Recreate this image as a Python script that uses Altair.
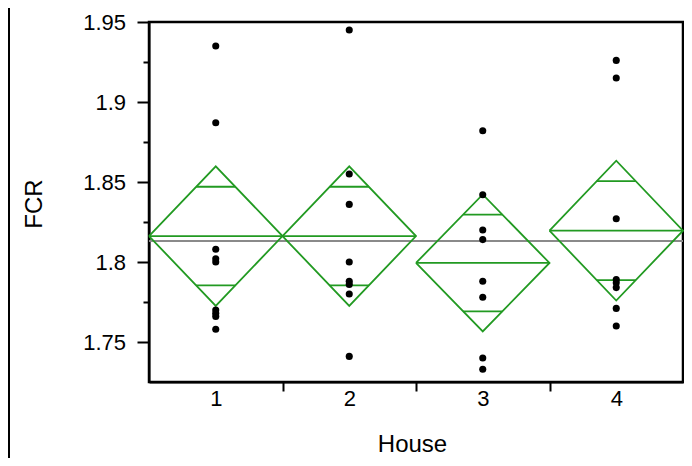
import math
import altair as alt
import pandas as pd

# ---- data ----
houses = [1, 2, 3, 4]
fcr_house1 = [1.935, 1.887, 1.808, 1.802, 1.800, 1.770, 1.768, 1.766, 1.758]
fcr_house2 = [1.945, 1.855, 1.836, 1.800, 1.788, 1.786, 1.780, 1.741]
fcr_house3 = [1.882, 1.842, 1.820, 1.814, 1.788, 1.778, 1.740, 1.733]
fcr_house4 = [1.926, 1.915, 1.827, 1.789, 1.787, 1.784, 1.771, 1.760]
group_means = [1.8162, 1.8162, 1.7994, 1.8196]
ci_half = [0.0436, 0.0436, 0.0428, 0.0437]
grand_mean = 1.8131
y_ticks = [1.75, 1.775, 1.8, 1.825, 1.85, 1.875, 1.9, 1.925, 1.95]
x_ticks = [1, 1.5, 2, 2.5, 3, 3.5, 4]

GREEN = "#229a22"
FONT = "Liberation Sans"
PLOT_W = 534

# points
rows = []
for h, vals in zip(houses, [fcr_house1, fcr_house2, fcr_house3, fcr_house4]):
    for v in vals:
        rows.append({"House": h, "FCR": v})
pts = pd.DataFrame(rows)

# diamonds
drows = []
for h, m, d in zip(houses, group_means, ci_half):
    verts = [(h - 0.5, m), (h, m + d), (h + 0.5, m), (h, m - d), (h - 0.5, m)]
    for i, (xx, yy) in enumerate(verts):
        drows.append({"House": h, "seq": i, "x": xx, "y": yy})
dia = pd.DataFrame(drows)

# mean lines and overlap marks
srows = []
w = 0.5 * (1 - 1 / math.sqrt(2))
for h, m, d in zip(houses, group_means, ci_half):
    srows.append({"x": h - 0.5, "x2": h + 0.5, "y": m})
    k = d / math.sqrt(2)
    srows.append({"x": h - w, "x2": h + w, "y": m + k})
    srows.append({"x": h - w, "x2": h + w, "y": m - k})
segs = pd.DataFrame(srows)

xscale = alt.Scale(domain=[0.5, 4.5], nice=False, zero=False)
yscale = alt.Scale(domain=[1.725, 1.95], nice=False, zero=False)

xaxis = alt.Axis(
    title="House",
    values=x_ticks,
    labelExpr="datum.value % 1 == 0 ? toString(datum.value) : ''",
    tickOpacity={"condition": {"test": "datum.value % 1 == 0", "value": 0}, "value": 1},
    tickSize=9,
    labelBaseline="alphabetic",
    labelPadding=14.5,
    titleX=PLOT_W / 2 - 4,
    titleY=69,
    titleBaseline="alphabetic",
    titleAlign="center",
    grid=False,
)
yaxis = alt.Axis(
    title="FCR",
    values=y_ticks,
    labelExpr="abs(datum.value*20 - round(datum.value*20)) < 0.01 ? format(datum.value, '~g') : ''",
    tickSize={"condition": {"test": "abs(datum.value*20 - round(datum.value*20)) > 0.01", "value": 6}, "value": 12},
    labelPadding=11.5,
    titleX=-108,
    titleY=181.5,
    titleAngle=-90,
    titleBaseline="alphabetic",
    titleAlign="center",
    grid=False,
)

gm = alt.Chart(pd.DataFrame({"y": [grand_mean]})).mark_rule(
    color="#8a8a8a", strokeWidth=2
).encode(y=alt.Y("y:Q", scale=yscale, axis=yaxis))

diamonds = alt.Chart(dia).mark_line(color=GREEN, strokeWidth=1.8).encode(
    x=alt.X("x:Q", scale=xscale, axis=xaxis),
    y=alt.Y("y:Q", scale=yscale, axis=yaxis),
    detail="House:N",
    order="seq:Q",
)

lines = alt.Chart(segs).mark_rule(color=GREEN, strokeWidth=1.8).encode(
    x=alt.X("x:Q", scale=xscale, axis=xaxis),
    x2="x2:Q",
    y=alt.Y("y:Q", scale=yscale, axis=yaxis),
)

dots = alt.Chart(pts).mark_circle(color="black", opacity=1, size=50).encode(
    x=alt.X("House:Q", scale=xscale, axis=xaxis),
    y=alt.Y("FCR:Q", scale=yscale, axis=yaxis),
)

border = alt.Chart(pd.DataFrame({"a": [0]})).mark_rule(color="black", strokeWidth=2).encode(
    x=alt.value(-140), y=alt.value(-14), y2=alt.value(440)
)

chart = alt.layer(gm, diamonds, lines, dots, border).properties(
    width=PLOT_W,
    height=360,
    autosize="none",
    background="white",
    padding={"left": 141, "top": 14, "right": 1, "bottom": 76},
    view=alt.ViewBackground(stroke="black", strokeWidth=2.5, strokeOpacity=1),
).configure_view(
    stroke="black", strokeWidth=2.5
).configure_axis(
    labelFont=FONT,
    titleFont=FONT,
    labelFontSize=22,
    titleFontSize=24,
    labelColor="black",
    titleColor="black",
    titleFontWeight="normal",
    domainColor="black",
    domainWidth=2,
    tickColor="black",
    tickWidth=2,
)

chart.save("out.html", embed_options={"renderer": "svg", "actions": False})
